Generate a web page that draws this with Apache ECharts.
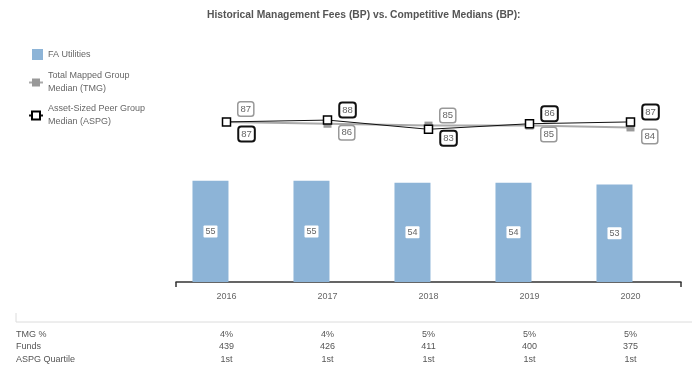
<!DOCTYPE html>
<html>
<head>
<meta charset="utf-8">
<script src="https://cdn.jsdelivr.net/npm/echarts@6/dist/echarts.min.js"></script>
<style>html,body{margin:0;padding:0;background:#fff}#c{width:692px;height:371px}</style>
</head>
<body>
<div id="c"></div>
<script>
const years = ['2016', '2017', '2018', '2019', '2020'];
const faUtilities = [55, 55, 54, 54, 53];
const tmgMedian = [87, 86, 85, 85, 84];
const aspgMedian = [87, 88, 83, 86, 87];
const tmgPct = ['4%', '4%', '5%', '5%', '5%'];
const funds = ['439', '426', '411', '400', '375'];
const aspgQuartile = ['1st', '1st', '1st', '1st', '1st'];
const rowHeaders = ['TMG %', 'Funds', 'ASPG Quartile'];

const FONT = '"Liberation Sans", Arial, sans-serif';
const TXT = '#666';

function lineLabelData(vals, other, isAspg) {
  return vals.map((v, i) => {
    const above = isAspg ? v > other[i] : v >= other[i];
    const tie = v === other[i];
    const dy = above ? (tie ? -13 : -10) : (tie ? 12 : 9);
    return { value: v, label: { offset: [0, dy] } };
  });
}

function tableAxis(data, offset) {
  return {
    type: 'category', data: data, position: 'bottom', offset: offset, gridIndex: 0,
    axisLine: { show: false }, axisTick: { show: false },
    axisLabel: { color: '#555', fontSize: 9, fontFamily: FONT, margin: 0, interval: 0 }
  };
}

const chart = echarts.init(document.getElementById('c'));
chart.setOption({
  animation: false,
  textStyle: { fontFamily: FONT },
  title: {
    text: 'Historical Management Fees (BP) vs. Competitive Medians (BP):',
    left: 202, top: 5,
    textStyle: { fontSize: 10.3, fontWeight: 'bold', color: '#555', fontFamily: FONT }
  },
  legend: [
    { orient: 'vertical', left: 27, top: 44, itemWidth: 11, itemHeight: 11, icon: 'rect',
      data: ['FA Utilities'],
      textStyle: { color: TXT, fontSize: 9, fontFamily: FONT } },
    { orient: 'vertical', left: 23, top: 58, itemWidth: 14, itemHeight: 10,
      data: [{ name: 'Total Mapped Group\nMedian (TMG)' }],
      textStyle: { color: TXT, fontSize: 9, lineHeight: 13, padding: [13, 0, 0, 0], fontFamily: FONT } },
    { orient: 'vertical', left: 23, top: 91, itemWidth: 14, itemHeight: 10,
      data: [{ name: 'Asset-Sized Peer Group\nMedian (ASPG)' }],
      textStyle: { color: TXT, fontSize: 9, lineHeight: 13, padding: [13, 0, 0, 0], fontFamily: FONT } }
  ],
  grid: { left: 176, right: 11, top: 98, height: 184 },
  xAxis: [
    { type: 'category', data: years,
      axisLine: { lineStyle: { color: '#333', width: 1.5 } },
      axisTick: { show: false },
      axisLabel: { color: TXT, fontSize: 9, margin: 10, fontFamily: FONT } },
    { type: 'value', min: 0, max: 5, interval: 5, position: 'bottom',
      axisLine: { show: false }, axisLabel: { show: false }, splitLine: { show: false },
      axisTick: { show: true, length: 5, lineStyle: { color: '#333', width: 1.5 } } },
    tableAxis(tmgPct, 48),
    tableAxis(funds, 60.5),
    tableAxis(aspgQuartile, 73)
  ],
  yAxis: { type: 'value', min: 0, max: 100, show: false, splitLine: { show: false } },
  graphic: [
    { type: 'line', shape: { x1: 16, y1: 322, x2: 692, y2: 322 }, style: { stroke: '#dcdcdc', lineWidth: 1 } },
    { type: 'line', shape: { x1: 16, y1: 313, x2: 16, y2: 322 }, style: { stroke: '#dcdcdc', lineWidth: 1 } }
  ].concat(rowHeaders.map((t, i) => ({
    type: 'text', left: 16, top: 330 + i * 12.5,
    style: { text: t, fill: '#555', fontSize: 9, fontFamily: FONT }
  }))),
  series: [
    { name: 'FA Utilities', type: 'bar', data: faUtilities, barWidth: 36, barGap: '-11%',
      itemStyle: { color: '#8db4d7' },
      label: { show: true, position: 'inside', color: TXT, fontSize: 9, backgroundColor: '#fff',
        padding: [2, 2, 1, 2], borderRadius: 1 } },
    { name: 'spacer', type: 'bar', data: [null, null, null, null, null], barWidth: 36 },
    { name: 'Total Mapped Group\nMedian (TMG)', type: 'line',
      data: lineLabelData(tmgMedian, aspgMedian, false),
      symbol: 'rect', symbolSize: 8, z: 3,
      lineStyle: { color: '#aaa', width: 2 },
      itemStyle: { color: '#999', borderColor: '#999', borderWidth: 0 },
      label: { show: true, position: 'right', distance: 8, color: TXT, fontSize: 9.5,
        backgroundColor: '#fff', borderColor: '#999', borderWidth: 1.5, borderRadius: 2,
        padding: [2, 2, 1, 2] } },
    { name: 'Asset-Sized Peer Group\nMedian (ASPG)', type: 'line',
      data: lineLabelData(aspgMedian, tmgMedian, true),
      symbol: 'rect', symbolSize: 8, z: 4,
      lineStyle: { color: '#111', width: 1 },
      itemStyle: { color: '#fff', borderColor: '#000', borderWidth: 1.5 },
      label: { show: true, position: 'right', distance: 8, color: TXT, fontSize: 9.5,
        backgroundColor: '#fff', borderColor: '#111', borderWidth: 2, borderRadius: 2,
        padding: [2, 2, 1, 2] } }
  ]
});
</script>
</body>
</html>
